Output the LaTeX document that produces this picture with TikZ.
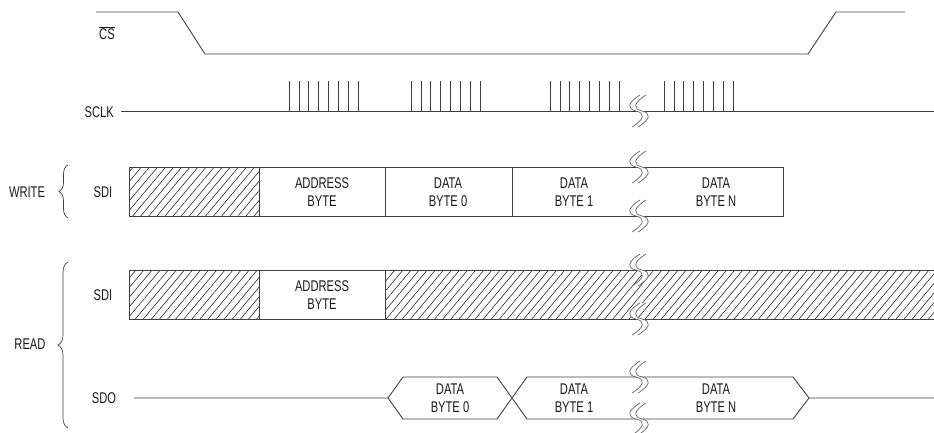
\documentclass[tikz,border=0pt]{standalone}
\usepackage{amsmath}
\usepackage{fontspec}
\setmainfont{Liberation Sans}[FakeStretch=0.72]
\usetikzlibrary{patterns.meta,decorations.pathreplacing}

\tikzset{
  wire/.style={draw=black!75, line width=0.9pt},
  hatch/.style={pattern={Lines[angle=50,distance=6.2pt,line width=0.6pt]}, pattern color=black!85},
  txt/.style={inner sep=0pt, align=center, font=\fontsize{15.5}{17.5}\selectfont, text=black!90},
  brk/.style={draw=black!60, line width=0.7pt},
}
% S-shaped break mark at (#1,#2)
\newcommand\breakmark[2]{%
  \begin{scope}[shift={(#1,#2)}]
    \fill[white] (4,-16) .. controls (-9,-8) and (-9,-2) .. (0,0) .. controls (9,2) and (9,8) .. (-4,16)
      -- (2,16) .. controls (15,8) and (15,2) .. (6,0) .. controls (-3,-2) and (-3,-8) .. (10,-16) -- cycle;
    \draw[brk] (4,-16) .. controls (-9,-8) and (-9,-2) .. (0,0) .. controls (9,2) and (9,8) .. (-4,16);
    \draw[brk] (10,-16) .. controls (-3,-8) and (-3,-2) .. (6,0) .. controls (15,2) and (15,8) .. (2,16);
  \end{scope}}

\begin{document}
\begin{tikzpicture}[x=1pt, y=-1pt]%
  \useasboundingbox (0,0) rectangle (934,432);%
  % chip select
  \node[txt] (cs) at (107,33) {$\overline{\text{CS}}$};
  \draw[wire] (96,12) -- (178,12) -- (205,54) -- (808,54) -- (836,12) -- (905,12);
  % serial clock
  \node[txt, anchor=east] (sclk) at (114,112) {SCLK};
  \draw[wire] (sclk.east) ++(7,-1) coordinate (sclk-l) -- (934,111) coordinate (sclk-r);
  \foreach \g in {289,411,550,664}{%
    \foreach \k in {0,...,7}{%
      \draw[wire, line width=0.7pt] (\g+\k*9.9,81) -- (\g+\k*9.9,111);
    }
  }
  \breakmark{636}{111}
  % write cycle
  \node[txt] (w-sdi) at (103,192) {SDI};
  \fill[hatch] (129,167) rectangle (259,216);
  \draw[wire] (129,167) rectangle (783,216);
  \foreach \x in {259,385,512}{%
    \draw[wire] (\x,167) -- (\x,216);
  }
  \node[txt] (w-addr) at (322,192) {ADDRESS\\BYTE};
  \node[txt] (w-d0) at (448,192) {DATA\\BYTE 0};
  \node[txt] (w-d1) at (574,192) {DATA\\BYTE 1};
  \node[txt] (w-dn) at (716,192) {DATA\\BYTE N};
  \breakmark{636}{167}
  \breakmark{636}{216}
  \node[txt] (write) at (27,192) {WRITE};
  \draw[wire, line width=0.7pt, decorate, decoration={brace, amplitude=9pt}] (68,218) -- (68,165);
  % read cycle
  \node[txt] (r-sdi) at (103,295) {SDI};
  \fill[hatch] (129,270) rectangle (259,319);
  \fill[hatch] (385,270) rectangle (934,319);
  \draw[wire] (934,270) -- (129,270) -- (129,319) -- (934,319);
  \draw[wire] (259,270) -- (259,319);
  \draw[wire] (385,270) -- (385,319);
  \node[txt] (r-addr) at (322,295) {ADDRESS\\BYTE};
  \breakmark{636}{270}
  \breakmark{636}{319}
  \node[txt] (sdo) at (104,398) {SDO};
  \draw[wire] (134,398) -- (388,398) -- (403,377) -- (497,377) -- (527,419) -- (793,419) -- (809,398) -- (934,398);
  \draw[wire] (388,398) -- (403,419) -- (497,419) -- (527,377) -- (793,377) -- (809,398);
  \node[txt] (r-d0) at (450,398) {DATA\\BYTE 0};
  \node[txt] (r-d1) at (574,398) {DATA\\BYTE 1};
  \node[txt] (r-dn) at (716,398) {DATA\\BYTE N};
  \breakmark{636}{377}
  \breakmark{636}{419}
  \node[txt] (read) at (30,344) {READ};
  \draw[wire, line width=0.7pt, decorate, decoration={brace, amplitude=10pt}] (68,428) -- (68,262);
\end{tikzpicture}
\end{document}
